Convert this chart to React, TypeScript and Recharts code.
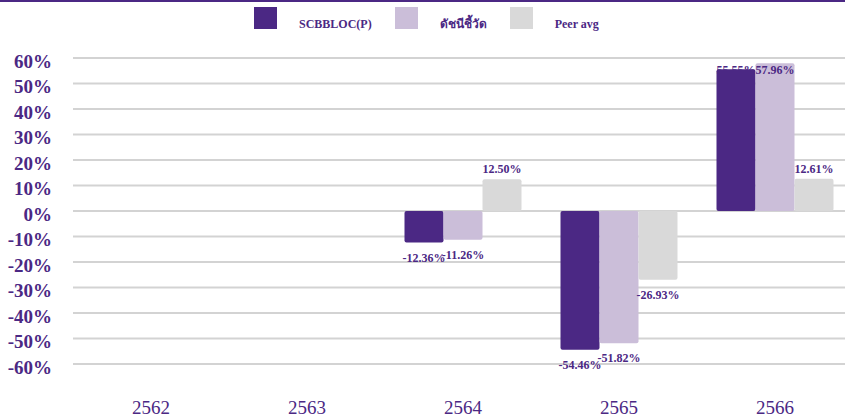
import React from "react";
import { BarChart, Bar, XAxis, YAxis, CartesianGrid, Legend, LabelList } from "recharts";

const years = ["2562", "2563", "2564", "2565", "2566"];
const fundValues: (number | null)[] = [null, null, -12.36, -54.46, 55.55];
const indexValues: (number | null)[] = [null, null, -11.26, -51.82, 57.96];
const peerValues: (number | null)[] = [null, null, 12.5, -26.93, 12.61];
const yTicks = [-60, -50, -40, -30, -20, -10, 0, 10, 20, 30, 40, 50, 60];

const seriesKeys = ["fund", "index", "peer"];
const seriesNames = { fund: "SCBBLOC(P)", index: "ดัชนีชี้วัด", peer: "Peer avg" };

const data = years.map((year, i) => ({
  year,
  fund: fundValues[i],
  index: indexValues[i],
  peer: peerValues[i],
}));

const PURPLE = "#4B2884";
const LILAC = "#CBBED9";
const GREY = "#D9D9D9";
const FONT = '"Liberation Serif", "Times New Roman", serif';
const PLOT_TOP = 61;
const LEGEND_SPACE = 26;

const ValueLabel = (props: any) => {
  const { x, y, width, height, value } = props;
  if (value === null || value === undefined) return null;
  const top = Math.min(y, y + height);
  const bottom = Math.max(y, y + height);
  const cy = value >= 0 ? Math.max(top - 10, PLOT_TOP + 9) : bottom + 15;
  return (
    <text
      x={x + width / 2}
      y={cy}
      textAnchor="middle"
      dominantBaseline="central"
      fill={PURPLE}
      fontFamily={FONT}
      fontWeight="bold"
      fontSize={12}
    >
      {`${Number(value).toFixed(2)}%`}
    </text>
  );
};

const renderLegend = (props: any) => {
  const payload = [...(props.payload || [])].sort(
    (a: any, b: any) => seriesKeys.indexOf(a.dataKey) - seriesKeys.indexOf(b.dataKey)
  );
  return (
    <div style={{ display: "flex", alignItems: "flex-start" }}>
      {payload.map((entry: any, i: number) => (
        <div key={i} style={{ display: "flex", alignItems: "flex-start", marginRight: 23 }}>
          <div style={{ width: 23, height: 22, background: entry.color }} />
          <span
            style={{
              marginLeft: 22,
              marginTop: 11,
              lineHeight: "12px",
              fontSize: 12,
              fontWeight: "bold",
              fontFamily: FONT,
              color: PURPLE,
              whiteSpace: "nowrap",
            }}
          >
            {entry.value}
          </span>
        </div>
      ))}
    </div>
  );
};

export default function App() {
  return (
    <div
      style={{
        position: "absolute",
        left: 0,
        top: 0,
        width: 845,
        height: 420,
        overflow: "hidden",
        background: "#fff",
      }}
    >
      <div style={{ position: "absolute", left: 0, top: 0, width: 845, height: 2, background: PURPLE, zIndex: 2 }} />
      <BarChart
        width={870}
        height={420}
        data={data}
        margin={{ top: PLOT_TOP - LEGEND_SPACE, right: 17, left: 0, bottom: 0 }}
        barCategoryGap="12.5%"
        barGap={0}
      >
        <CartesianGrid vertical={false} stroke="#D3D3D3" strokeWidth={2} />
        <XAxis
          dataKey="year"
          axisLine={false}
          tickLine={false}
          tickSize={0}
          tickMargin={37}
          height={56}
          tick={{ fill: PURPLE, fontSize: 19, fontFamily: FONT }}
        />
        <YAxis
          domain={[-60, 60]}
          ticks={yTicks}
          width={73}
          axisLine={false}
          tickLine={false}
          tickSize={0}
          tickMargin={21}
          interval={0}
          tickFormatter={(v: number) => `${v}%`}
          tick={{ fill: PURPLE, fontSize: 19, fontWeight: "bold", fontFamily: FONT, dy: 3 }}
        />
        <Legend
          verticalAlign="top"
          align="left"
          content={renderLegend}
          wrapperStyle={{ top: 7, left: 254, width: 600 }}
        />
        <Bar dataKey="fund" name={seriesNames.fund} fill={PURPLE} radius={2} isAnimationActive={false}>
          <LabelList dataKey="fund" content={ValueLabel} />
        </Bar>
        <Bar dataKey="index" name={seriesNames.index} fill={LILAC} radius={2} isAnimationActive={false}>
          <LabelList dataKey="index" content={ValueLabel} />
        </Bar>
        <Bar dataKey="peer" name={seriesNames.peer} fill={GREY} radius={2} isAnimationActive={false}>
          <LabelList dataKey="peer" content={ValueLabel} />
        </Bar>
      </BarChart>
    </div>
  );
}
